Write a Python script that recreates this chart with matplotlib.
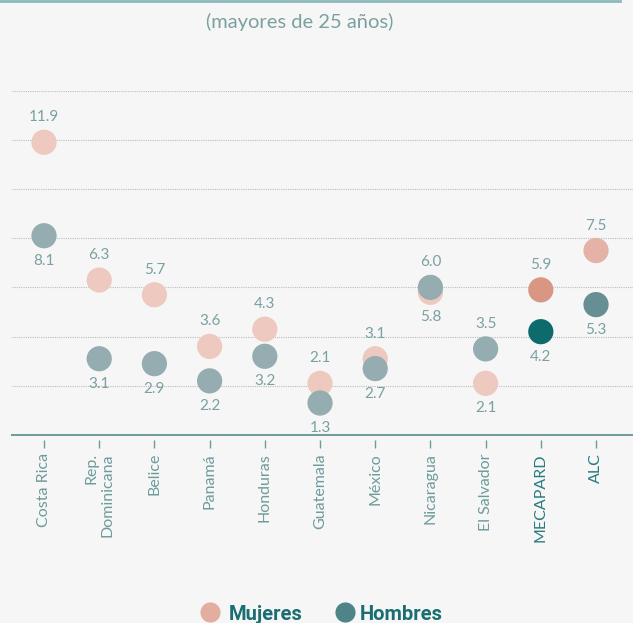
import numpy as np
import matplotlib.pyplot as plt
from matplotlib.lines import Line2D

# Datos: tasa por país (mayores de 25 años)
paises = ['Costa Rica', 'Rep.\nDominicana', 'Belice', 'Panamá', 'Honduras',
          'Guatemala', 'México', 'Nicaragua', 'El Salvador', 'MECAPARD', 'ALC']
mujeres = [11.9, 6.3, 5.7, 3.6, 4.3, 2.1, 3.1, 5.8, 2.1, 5.9, 7.5]
hombres = [8.1, 3.1, 2.9, 2.2, 3.2, 1.3, 2.7, 6.0, 3.5, 4.2, 5.3]

col_muj = ['#edc9c0'] * 9 + ['#d99783', '#e4b2a6']
col_hom = ['#95adb0'] * 9 + ['#0e6b6c', '#678f93']

fondo = '#f6f6f6'
txt = '#7aa0a1'

plt.rcParams['font.family'] = ['Lato', 'DejaVu Sans']

fig = plt.figure(figsize=(6.33, 6.23), dpi=100, facecolor=fondo)
ax = fig.add_axes([12 / 633, 188 / 623, 621 / 633, 344.4 / 623])
ax.set_facecolor(fondo)

x = np.arange(len(paises))
ax.scatter(x, mujeres, s=330, c=col_muj, linewidths=0, zorder=3, clip_on=False)
ax.scatter(x, hombres, s=330, c=col_hom, linewidths=0, zorder=4, clip_on=False)

# etiquetas de valor: arriba el mayor, abajo el menor
for i in range(len(paises)):
    for v, otro in ((mujeres[i], hombres[i]), (hombres[i], mujeres[i])):
        dy = 18 if v >= otro else -18
        ax.annotate(f'{v:.1f}', (x[i], v), xytext=(0, dy), textcoords='offset points',
                    ha='center', va='center', fontsize=11, color=txt, zorder=5)

ax.set_xlim(-0.58, 10.67)
ax.set_ylim(0, 14)
ax.set_yticks(np.arange(2, 15, 2))
ax.yaxis.grid(True, linestyle=(0, (1, 1)), color='#bdbdbd', linewidth=0.8)
ax.tick_params(axis='y', length=0, labelleft=False)
for s in ['top', 'right', 'left']:
    ax.spines[s].set_visible(False)
ax.spines['bottom'].set_color('#6c9a9c')
ax.spines['bottom'].set_linewidth(1.4)

# marcas cortas separadas del eje
ax.plot(x, np.full(len(x), -0.37), linestyle='none', marker='|', markersize=6,
        markeredgewidth=1, color='#6e9b9c', clip_on=False)

ax.set_xticks(x)
ax.set_xticklabels(paises, rotation=90, ha='center', va='top', multialignment='right',
                   fontsize=11.5, color='#6e9b9c')
ax.tick_params(axis='x', length=0, pad=13)
for lab in ax.get_xticklabels()[-2:]:
    lab.set_color('#2a7b7e')

fig.text(300 / 633, 1 - 22 / 623, '(mayores de 25 años)', ha='center', va='center',
         fontsize=14.5, color=txt)

# linea superior
fig.add_artist(Line2D([0, 620 / 633], [0.999, 0.999], color='#8cb9bc', linewidth=2))

# leyenda
ly = 1 - 612 / 623
fig.add_artist(Line2D([210 / 633], [ly], marker='o', markersize=14.5, markeredgewidth=0,
                      color='#e3ae9f', linestyle='none'))
fig.add_artist(Line2D([345 / 633], [ly], marker='o', markersize=14.5, markeredgewidth=0,
                      color='#4e8487', linestyle='none'))
fig.text(229 / 633, 1 - 620 / 623, 'Mujeres', ha='left', va='baseline', fontsize=14.5,
         color='#1a6e71', fontweight='bold', family='Roboto')
fig.text(360 / 633, 1 - 620 / 623, 'Hombres', ha='left', va='baseline', fontsize=14.5,
         color='#1a6e71', fontweight='bold', family='Roboto')

fig.savefig('out.png', dpi=100, facecolor=fondo)
